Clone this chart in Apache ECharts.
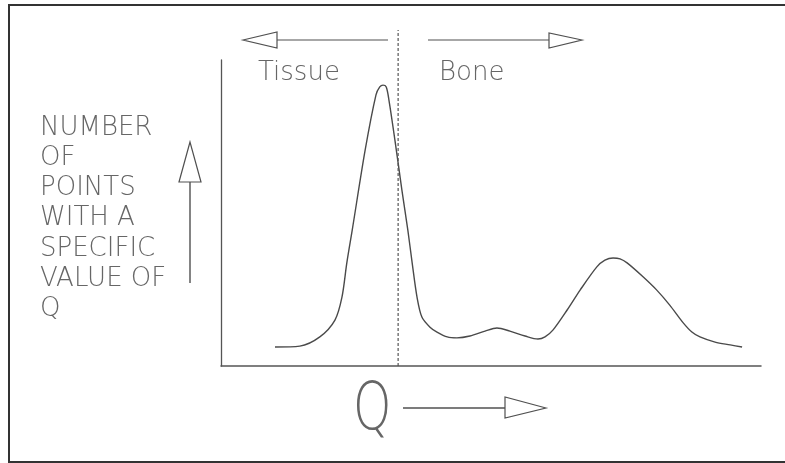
<!DOCTYPE html>
<html>
<head>
<meta charset="utf-8">
<script src="https://cdn.jsdelivr.net/npm/echarts@6/dist/echarts.min.js"></script>
<style>
html,body{margin:0;padding:0;background:#fff;}
#chart{width:785px;height:463px;}
</style>
</head>
<body>
<div id="chart"></div>
<script>
// Q values (x) and number of points (y) (0-100 scales)
var qValues = [10.0, 14.6, 18.3, 21.1, 22.4, 23.3, 24.3, 26.7, 28.7, 29.4, 30.0, 30.6, 31.1, 32.2, 33.5, 34.6, 35.4, 36.3, 37.2, 38.7, 40.0, 41.9, 43.7, 46.1, 48.9, 51.1, 53.5, 56.3, 58.7, 60.0, 61.5, 64.1, 66.5, 69.6, 71.1, 72.6, 73.9, 75.2, 78.0, 80.7, 83.1, 85.6, 87.2, 88.7, 91.5, 94.3, 96.5];
var counts  = [6.2, 6.5, 9.5, 15.0, 22.5, 33.7, 44.4, 70.6, 88.6, 91.2, 91.8, 91.2, 86.9, 73.9, 57.5, 44.4, 33.7, 22.5, 16.0, 12.7, 11.1, 9.5, 9.2, 9.8, 11.4, 12.4, 11.4, 9.8, 8.8, 9.5, 11.8, 18.3, 24.8, 32.4, 34.6, 35.3, 35.0, 33.7, 29.4, 24.8, 19.9, 14.1, 11.1, 9.5, 7.8, 6.9, 6.2];
var thresholdQ = 32.8;
var thresholdTop = 109.8;
var yLabelLines = ['NUMBER', 'OF', 'POINTS', 'WITH A', 'SPECIFIC', 'VALUE OF', 'Q'];
var leftRegion = 'Tissue';
var rightRegion = 'Bone';
var xTitle = 'Q';

var curve = qValues.map(function (q, i) { return [q, counts[i]]; });
var FONT = 'DejaVu Sans';
var TXT = '#666';
var LINE = '#505050';

var graphics = [
  // frame (left, top, bottom; the right side is cut off in the source)
  { type: 'polyline', shape: { points: [[785, 5], [9, 5], [9, 462], [785, 462]] }, style: { fill: null, stroke: '#333', lineWidth: 2 }, silent: true },
  // top left arrow
  { type: 'polyline', shape: { points: [[277, 40], [388, 40]] }, style: { stroke: LINE, lineWidth: 1.2 } },
  { type: 'polygon', shape: { points: [[243, 40], [277, 32], [277, 48]] }, style: { fill: null, stroke: LINE, lineWidth: 1.2 } },
  // top right arrow
  { type: 'polyline', shape: { points: [[428, 40], [549, 40]] }, style: { stroke: LINE, lineWidth: 1.2 } },
  { type: 'polygon', shape: { points: [[582, 40], [549, 33], [549, 48]] }, style: { fill: null, stroke: LINE, lineWidth: 1.2 } },
  // y arrow
  { type: 'polyline', shape: { points: [[190, 182], [190, 283]] }, style: { stroke: LINE, lineWidth: 1.4 } },
  { type: 'polygon', shape: { points: [[190, 142], [179, 182], [201, 182]] }, style: { fill: null, stroke: LINE, lineWidth: 1.2 } },
  // Q arrow
  { type: 'polyline', shape: { points: [[403, 408], [505, 408]] }, style: { stroke: LINE, lineWidth: 1.4 } },
  { type: 'polygon', shape: { points: [[546, 408], [505, 397], [505, 418]] }, style: { fill: null, stroke: LINE, lineWidth: 1.2 } },
  // region labels
  { type: 'text', x: 258, y: 73, style: { text: leftRegion, font: '200 26px "' + FONT + '"', fill: TXT, textVerticalAlign: 'middle' } },
  { type: 'text', x: 439, y: 73, style: { text: rightRegion, font: '200 26px "' + FONT + '"', fill: TXT, textVerticalAlign: 'middle' } },
  // x title
  { type: 'text', x: 353, y: 379, scaleX: 0.74, style: { text: xTitle, font: '200 66px "' + FONT + '"', fill: TXT, textVerticalAlign: 'top' } }
];
yLabelLines.forEach(function (t, i) {
  graphics.push({ type: 'text', x: 40, y: 128 + i * 30.2, style: { text: t, font: '200 26px "' + FONT + '"', fill: TXT, textVerticalAlign: 'middle' } });
});

var chart = echarts.init(document.getElementById('chart'), null, { renderer: 'canvas' });
chart.setOption({
  backgroundColor: '#fff',
  animation: false,
  grid: { left: 221, top: 60, width: 540, height: 306 },
  xAxis: {
    type: 'value', min: 0, max: 100,
    axisLine: { show: true, onZero: false, lineStyle: { color: '#555', width: 1.5 } },
    axisTick: { show: false }, axisLabel: { show: false }, splitLine: { show: false }
  },
  yAxis: {
    type: 'value', min: 0, max: 100,
    axisLine: { show: true, lineStyle: { color: '#555', width: 1.3 } },
    axisTick: { show: false }, axisLabel: { show: false }, splitLine: { show: false }
  },
  series: [
    {
      type: 'line', data: curve, smooth: 0.3, showSymbol: false, symbol: 'none',
      lineStyle: { color: '#4a4a4a', width: 1.4 }
    },
    {
      type: 'line', data: [[thresholdQ, 0], [thresholdQ, thresholdTop]], clip: false,
      showSymbol: false, symbol: 'none',
      lineStyle: { color: '#555', width: 1.2, type: [3, 2] }
    }
  ],
  graphic: graphics
});
</script>
</body>
</html>
